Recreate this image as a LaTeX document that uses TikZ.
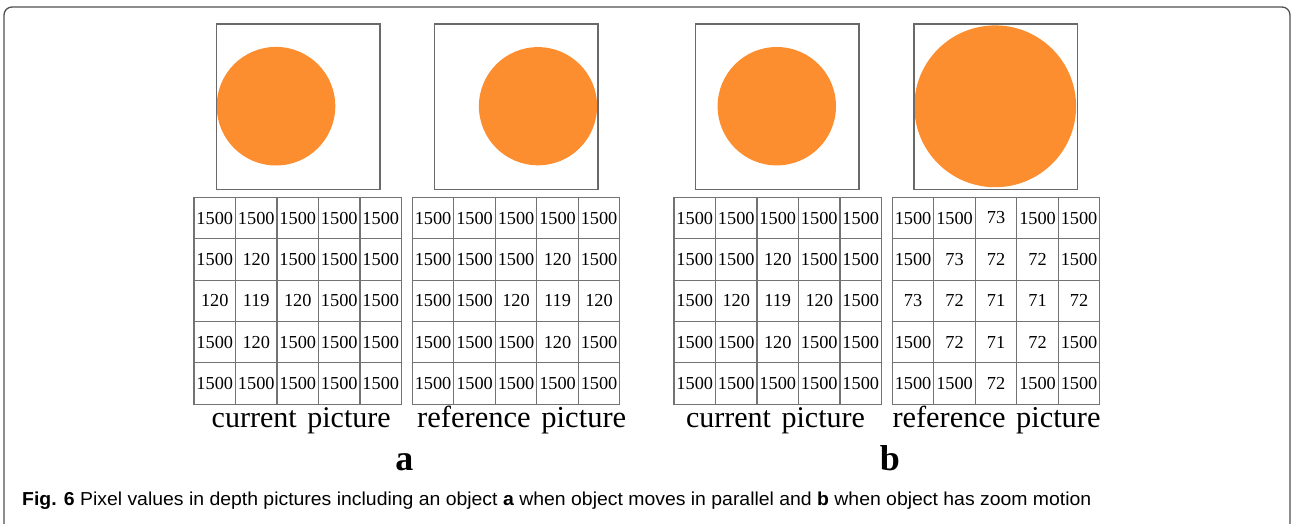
\documentclass[tikz,border=0pt]{standalone}
\usepackage{fontspec}
\setmainfont{Liberation Serif}
\newfontfamily\capfont{Liberation Sans}
\definecolor{disk}{RGB}{253,142,48}
\definecolor{edgec}{RGB}{105,105,105}
\definecolor{gridc}{RGB}{115,115,115}
\definecolor{framec}{RGB}{80,80,80}
\tikzset{
  cell/.style={draw=gridc, line width=1.1pt, minimum width=41.5pt, minimum height=41.4pt,
    inner sep=0pt, font=\fontsize{18.3}{18.3}\selectfont},
  picbox/.style={draw=edgec, line width=1.4pt, minimum width=163.4pt, minimum height=165.3pt, inner sep=0pt},
  disc/.style={circle, fill=disk, inner sep=0pt},
  sublabel/.style={anchor=base, inner sep=0pt, font=\fontsize{36}{36}\selectfont\bfseries},
  gridlabel/.style={anchor=base, inner sep=0pt}
}
\newcommand\pixgrid[3]{%
  \foreach \rowvals [count=\ri] in {#3} {
    \foreach \val [count=\ci] in \rowvals {
      \node[cell] (#1-\ri-\ci) at ({#2+(\ci-0.5)*41.5}, {197.3+(\ri-0.5)*41.4}) {\val};
    }
  }}
\begin{document}
\begin{tikzpicture}[x=1pt, y=-1pt]
\useasboundingbox (0,0) rectangle (1291,523);
% frame
\draw[framec, line width=1.3pt, rounded corners=8pt] (4,535) -- (4,7) -- (1290,7) -- (1290,535);
% discs
\node[disc, minimum size=118.6pt] (da1) at (276.0,106.2) {};
\node[disc, minimum size=118.2pt] (da2) at (538.0,106.2) {};
\node[disc, minimum size=118.4pt] (db1) at (776.8,106.2) {};
\node[disc, minimum size=161.8pt] (db2) at (995.2,106.3) {};
% picture boxes
\node[picbox] (pa1) at (298.1,106.65) {};
\node[picbox] (pa2) at (516.2,106.65) {};
\node[picbox] (pb1) at (777.4,106.65) {};
\node[picbox] (pb2) at (995.6,106.65) {};
% grids
\pixgrid{ga1}{194.0}{{1500,1500,1500,1500,1500},{1500,120,1500,1500,1500},{120,119,120,1500,1500},{1500,120,1500,1500,1500},{1500,1500,1500,1500,1500}}
\pixgrid{ga2}{412.3}{{1500,1500,1500,1500,1500},{1500,1500,1500,120,1500},{1500,1500,120,119,120},{1500,1500,1500,120,1500},{1500,1500,1500,1500,1500}}
\pixgrid{gb1}{674.0}{{1500,1500,1500,1500,1500},{1500,1500,120,1500,1500},{1500,120,119,120,1500},{1500,1500,120,1500,1500},{1500,1500,1500,1500,1500}}
\pixgrid{gb2}{892.3}{{1500,1500,73,1500,1500},{1500,73,72,72,1500},{73,72,71,71,72},{1500,72,71,72,1500},{1500,1500,72,1500,1500}}
% grid captions
\node[gridlabel] (ta1) at (301.2,427.3) {\resizebox{179pt}{!}{\fontsize{28}{28}\selectfont current\hspace{0.35em}picture}};
\node[gridlabel] (ta2) at (521.7,427.3) {\resizebox{209pt}{!}{\fontsize{28}{28}\selectfont reference\hspace{0.35em}picture}};
\node[gridlabel] (tb1) at (775.5,427.3) {\resizebox{179pt}{!}{\fontsize{28}{28}\selectfont current\hspace{0.35em}picture}};
\node[gridlabel] (tb2) at (996.5,427.3) {\resizebox{208pt}{!}{\fontsize{28}{28}\selectfont reference\hspace{0.35em}picture}};
% sub labels
\node[sublabel] (la) at (404.4,470.5) {a};
\node[sublabel] (lb) at (890.0,470.5) {b};
% figure caption
\node[anchor=base west, inner sep=0pt] (cap) at (22,505) {\resizebox{1069pt}{13.6pt}{\capfont\fontsize{18}{18}\selectfont\textbf{Fig. 6} Pixel values in depth pictures including an object \textbf{a} when object moves in parallel and \textbf{b} when object has zoom motion}};
\end{tikzpicture}
\end{document}
